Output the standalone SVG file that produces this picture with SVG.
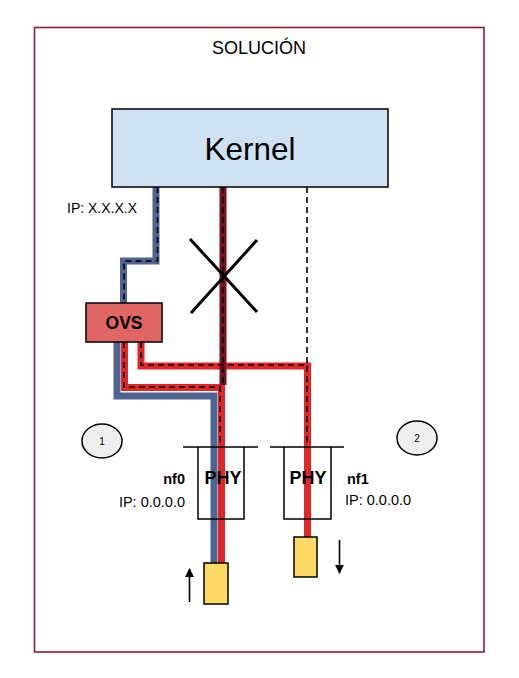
<svg xmlns="http://www.w3.org/2000/svg" width="519" height="678" viewBox="0 0 519 678">
<defs>
<style>
text{font-family:"Liberation Sans",Arial,sans-serif;fill:#000}
.box{stroke:#000;stroke-width:1.5}
.dash{fill:none;stroke:#000;stroke-width:1.6;stroke-dasharray:6,4}
.thick{fill:none;stroke-linejoin:miter;stroke-linecap:butt}
</style>
<marker id="ah" viewBox="0 0 10 10" refX="9" refY="5" markerWidth="5.5" markerHeight="5.5" orient="auto" markerUnits="strokeWidth"><path d="M0,0 L10,5 L0,10 z" fill="#000"/></marker>
</defs>
<rect width="519" height="678" fill="#fff"/>
<rect id="frame" x="34.5" y="27.5" width="449.5" height="624.5" fill="none" stroke="#8e1d33" stroke-width="1.6"/>
<text x="259" y="54" font-size="18" text-anchor="middle">SOLUCIÓN</text>

<g id="connectors">
  <path class="thick" d="M156,187 V261 H123.5 V303" stroke="#4e6491" stroke-width="7"/>
  <path class="thick" d="M117,342 V396 H214 V563" stroke="#4e6491" stroke-width="7"/>
  <path class="thick" d="M124.5,342 V387.5 H221.5 V563" stroke="#e02626" stroke-width="7"/>
  <path class="thick" d="M141,342 V366 H307.5 V537" stroke="#e02626" stroke-width="7"/>
  <path class="thick" d="M223,187 V385" stroke="#7b1020" stroke-width="7"/>
  <path class="dash" d="M157.5,187 V261 H124 V303"/>
  <path class="dash" d="M124,342 V387 H220 V447"/>
  <path class="dash" d="M141,342 V365 H307 V447"/>
  <path class="dash" d="M223,187 V385"/>
  <path class="dash" d="M307,187 V365"/>
  <path d="M190,239 L257,312 M257,240 L191,313" stroke="#000" stroke-width="3" fill="none"/>
  <path d="M189.5,602 V569" stroke="#000" stroke-width="1.6" marker-end="url(#ah)"/>
  <path d="M339.5,540 V573" stroke="#000" stroke-width="1.6" marker-end="url(#ah)"/>
</g>

<g id="kernel">
  <rect class="box" x="112" y="109" width="276" height="78" fill="#cfe2f3"/>
  <text x="250" y="160" font-size="31.5" text-anchor="middle">Kernel</text>
</g>
<text x="67" y="213" font-size="14">IP: X.X.X.X</text>

<g id="ovs">
  <rect class="box" x="86" y="303" width="76" height="39" fill="#e06666"/>
  <text x="124" y="329" font-size="17.5" font-weight="bold" text-anchor="middle">OVS</text>
</g>

<g id="circle1">
  <ellipse cx="102" cy="441" rx="20" ry="17" fill="#eeeeee" stroke="#000" stroke-width="1.5"/>
  <text x="102" y="445" font-size="10" text-anchor="middle">1</text>
</g>
<g id="circle2">
  <ellipse cx="417" cy="438" rx="20" ry="17" fill="#eeeeee" stroke="#000" stroke-width="1.5"/>
  <text x="417" y="442" font-size="10" text-anchor="middle">2</text>
</g>

<g id="phy0">
  <path d="M183,447 H258 M198,447 V519 H244 V447" fill="none" stroke="#000" stroke-width="1.5"/>
  <text x="223" y="484" font-size="18" font-weight="bold" text-anchor="middle">PHY</text>
  <text x="185" y="484" font-size="14.5" font-weight="bold" text-anchor="end">nf0</text>
  <text x="185" y="507" font-size="14.5" text-anchor="end">IP: 0.0.0.0</text>
</g>
<g id="phy1">
  <path d="M270,447 H344 M284,447 V519 H331 V447" fill="none" stroke="#000" stroke-width="1.5"/>
  <text x="308" y="484" font-size="18" font-weight="bold" text-anchor="middle">PHY</text>
  <text x="347" y="484" font-size="14.5" font-weight="bold">nf1</text>
  <text x="345" y="505" font-size="14.5">IP: 0.0.0.0</text>
</g>

<g id="port0">
  <rect class="box" x="204" y="563" width="24" height="41" fill="#ffd966"/>
</g>
<g id="port1">
  <rect class="box" x="294" y="537" width="23" height="40" fill="#ffd966"/>
</g>
</svg>
